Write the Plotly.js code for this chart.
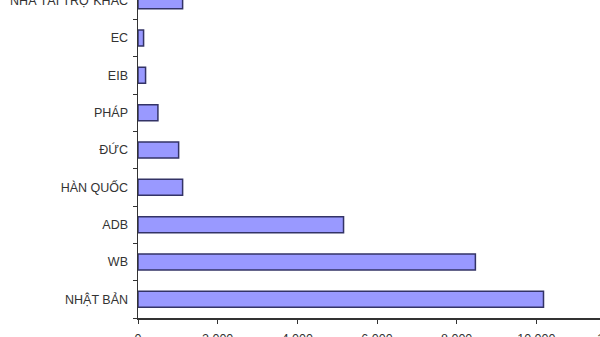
<!DOCTYPE html>
<html>
<head>
<meta charset="utf-8">
<script src="https://cdn.plot.ly/plotly-3.0.1.min.js"></script>
<style>
html,body{margin:0;padding:0;width:600px;height:337px;overflow:hidden;background:#fff;}
#chart{position:absolute;left:0;top:-40px;width:660px;height:400px;}
</style>
</head>
<body>
<div id="chart"></div>
<script>
var categories = ["NHẬT BẢN","WB","ADB","HÀN QUỐC","ĐỨC","PHÁP","EIB","EC","NHÀ TÀI TRỢ KHÁC"];
var values = [10180, 8470, 5160, 1120, 1020, 500, 190, 140, 1120];
var xTicks = [0, 2000, 4000, 6000, 8000, 10000, 12000];

var trace = {
  type: 'bar',
  orientation: 'h',
  y: categories,
  x: values,
  marker: {color: '#9999FF', line: {color: '#333366', width: 1.5}},
  hoverinfo: 'none'
};

var layout = {
  width: 660, height: 400,
  margin: {l: 138, r: 44, t: 22.3, b: 42, pad: 0},
  paper_bgcolor: '#ffffff', plot_bgcolor: '#ffffff',
  showlegend: false,
  bargap: 0.57,
  separators: ',.',
  font: {family: 'Liberation Sans, Arial, sans-serif', size: 12.5, color: '#333333'},
  xaxis: {
    range: [0, 12000],
    tickvals: xTicks,
    tickformat: ',d',
    showgrid: false, zeroline: false,
    showline: true, linecolor: '#333333', linewidth: 1.5,
    ticks: 'outside', ticklen: 4, tickcolor: '#333333', tickwidth: 1,
    ticklabelstandoff: 4,
    fixedrange: true
  },
  yaxis: {
    type: 'category',
    categoryorder: 'array', categoryarray: categories,
    range: [-0.5, 8.5],
    showgrid: false, zeroline: false,
    showline: true, linecolor: '#333333', linewidth: 1.5,
    ticks: 'outside', ticklen: 4, tickcolor: '#333333', tickwidth: 1,
    tickson: 'boundaries',
    ticklabelstandoff: 6,
    fixedrange: true
  }
};

Plotly.newPlot('chart', [trace], layout, {staticPlot: true, displayModeBar: false});
</script>
</body>
</html>
